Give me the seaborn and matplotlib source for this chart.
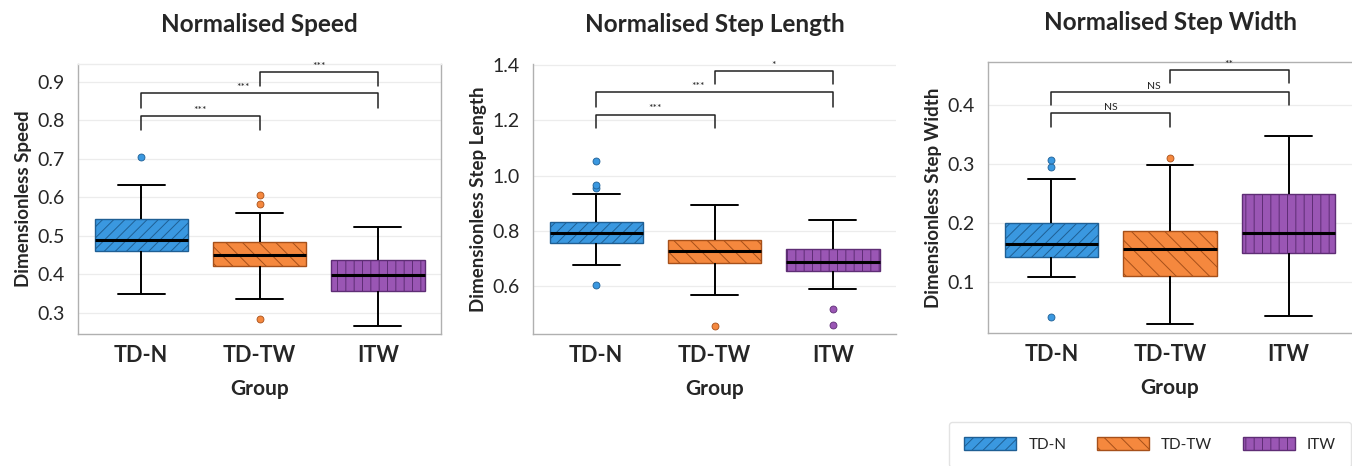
import matplotlib
matplotlib.use("Agg")
import matplotlib.pyplot as plt
from matplotlib.patches import Patch
import seaborn as sns
import pandas as pd

groups = ["TD-N", "TD-TW", "ITW"]
colors = ["#3a98e0", "#f5883e", "#9a56b4"]
hatch_colors = ["#1f5f94", "#a6501a", "#5e2d75"]
hatches = ["///", "\\\\", "||"]

# sample values per group (17 each)
speed_tdn = [0.35, 0.40, 0.43, 0.45, 0.460, 0.47, 0.48, 0.485, 0.490, 0.50, 0.51, 0.53, 0.543, 0.56, 0.59, 0.633, 0.705]
speed_tdtw = [0.284, 0.337, 0.38, 0.41, 0.422, 0.43, 0.44, 0.445, 0.450, 0.46, 0.47, 0.48, 0.484, 0.52, 0.559, 0.583, 0.606]
speed_itw = [0.267, 0.30, 0.33, 0.345, 0.356, 0.37, 0.38, 0.39, 0.397, 0.41, 0.42, 0.43, 0.437, 0.46, 0.48, 0.50, 0.524]

length_tdn = [0.604, 0.675, 0.72, 0.74, 0.754, 0.77, 0.78, 0.79, 0.793, 0.80, 0.81, 0.82, 0.832, 0.934, 0.955, 0.964, 1.051]
length_tdtw = [0.456, 0.567, 0.62, 0.66, 0.682, 0.70, 0.71, 0.72, 0.727, 0.74, 0.75, 0.76, 0.768, 0.80, 0.83, 0.86, 0.893]
length_itw = [0.458, 0.517, 0.588, 0.63, 0.654, 0.66, 0.67, 0.68, 0.688, 0.70, 0.71, 0.72, 0.734, 0.76, 0.78, 0.81, 0.838]

width_tdn = [0.041, 0.109, 0.12, 0.135, 0.143, 0.15, 0.155, 0.16, 0.164, 0.17, 0.18, 0.19, 0.200, 0.24, 0.275, 0.295, 0.306]
width_tdtw = [0.030, 0.06, 0.09, 0.10, 0.110, 0.12, 0.135, 0.145, 0.156, 0.165, 0.175, 0.18, 0.186, 0.22, 0.26, 0.298, 0.310]
width_itw = [0.042, 0.09, 0.12, 0.14, 0.149, 0.16, 0.17, 0.175, 0.183, 0.20, 0.22, 0.235, 0.249, 0.28, 0.31, 0.33, 0.347]

titles = ["Normalised Speed", "Normalised Step Length", "Normalised Step Width"]
ylabels = ["Dimensionless Speed", "Dimensionless Step Length", "Dimensionless Step Width"]
ylims = [(0.245, 0.946), (0.426, 1.404), (0.014, 0.472)]
yticks = [[0.3, 0.4, 0.5, 0.6, 0.7, 0.8, 0.9], [0.6, 0.8, 1.0, 1.2, 1.4], [0.1, 0.2, 0.3, 0.4]]

# significance brackets: (left group, right group)
bracket_pairs = [(0, 1), (0, 2), (1, 2)]
speed_tops = [0.812, 0.870, 0.926]
speed_legs = [0.775, 0.833, 0.890]
length_tops = [1.221, 1.301, 1.379]
length_legs = [1.171, 1.249, 1.330]
width_tops = [0.385, 0.421, 0.458]
width_legs = [0.362, 0.400, 0.437]
speed_sig = ["***", "***", "***"]
length_sig = ["***", "***", "*"]
width_sig = ["NS", "NS", "**"]
sig_x = [0.5, 0.86, 1.5]

panels = [
    ([speed_tdn, speed_tdtw, speed_itw], speed_tops, speed_legs, speed_sig),
    ([length_tdn, length_tdtw, length_itw], length_tops, length_legs, length_sig),
    ([width_tdn, width_tdtw, width_itw], width_tops, width_legs, width_sig),
]

sns.set_theme(style="whitegrid")
plt.rcParams["font.family"] = ["Lato", "DejaVu Sans"]
plt.rcParams["hatch.linewidth"] = 0.7

W, H = 1352, 466
fig = plt.figure(figsize=(W / 100, H / 100), dpi=100)
# axes boxes in pixels: left, top, right, bottom
boxes_px = [(78, 64, 441, 334), (533, 64, 896, 334), (988, 62, 1352, 333)]

for k, (vals, tops, legs, sigs) in enumerate(panels):
    l, t, r, b = boxes_px[k]
    ax = fig.add_axes([l / W, 1 - b / H, (r - l) / W, (b - t) / H])

    df = pd.DataFrame({
        "Group": [g for g, v in zip(groups, vals) for _ in v],
        "value": [x for v in vals for x in v],
    })
    sns.boxplot(data=df, x="Group", y="value", hue="Group", order=groups, hue_order=groups,
                palette=colors, saturation=1, width=0.79, linecolor="black", linewidth=1.4,
                medianprops=dict(linewidth=2.2, color="black"),
                flierprops=dict(marker="o", markersize=5),
                legend=False, ax=ax)

    for i, p in enumerate(ax.patches):
        p.set_hatch(hatches[i])
        p.set_edgecolor(hatch_colors[i])
        p.set_linewidth(1.0)

    for line in ax.lines:
        if line.get_marker() == "o":
            xs = line.get_xdata()
            if len(xs):
                gi = int(round(xs[0]))
                line.set_markerfacecolor(colors[gi])
                line.set_markeredgecolor(hatch_colors[gi])
                line.set_markeredgewidth(0.6)

    for (i, j), top, leg, s, sx in zip(bracket_pairs, tops, legs, sigs, sig_x):
        ax.plot([i, i, j, j], [leg, top, top, leg], color="#222222", lw=1.1)
        ax.text(sx, top + (ylims[k][1] - ylims[k][0]) * 0.004, s, ha="center", va="bottom",
                fontsize=7.5, color="#222222")

    ax.set_ylim(*ylims[k])
    ax.set_yticks(yticks[k])
    ax.set_yticklabels([f"{v:.1f}" for v in yticks[k]], fontsize=14)
    ax.tick_params(axis="x", labelsize=15.5, pad=2)
    for lab in ax.get_xticklabels():
        lab.set_fontweight("bold")
    ax.set_xlabel("Group", fontsize=15, fontweight="bold", labelpad=9)
    ax.set_ylabel(ylabels[k], fontsize=13.5, fontweight="bold")
    ax.grid(axis="x", visible=False)
    ax.grid(axis="y", color="#ececec", lw=0.9)
    for side in ["left", "bottom", "right", "top"]:
        ax.spines[side].set_color("#b0b0b0")
        ax.spines[side].set_linewidth(1.0)
    if k == 1:
        ax.spines["right"].set_visible(False)
        ax.spines["top"].set_visible(False)
    if k == 2:
        ax.spines["right"].set_visible(False)
    if k == 0:
        ax.spines["top"].set_color("#ececec")
    ax.set_title(titles[k], fontsize=17.5, fontweight="bold", pad=23)

handles = [Patch(facecolor=c, edgecolor=hc, hatch=h, label=g)
           for c, hc, h, g in zip(colors, hatch_colors, hatches, groups)]
fig.legend(handles=handles, loc="upper center", bbox_to_anchor=(1150 / W, 1 - 414 / H),
           ncol=3, fontsize=11, frameon=True, handlelength=3.4, handleheight=0.9,
           columnspacing=2.0, borderpad=1.0, edgecolor="#dddddd")

fig.savefig("out.png", dpi=100)
